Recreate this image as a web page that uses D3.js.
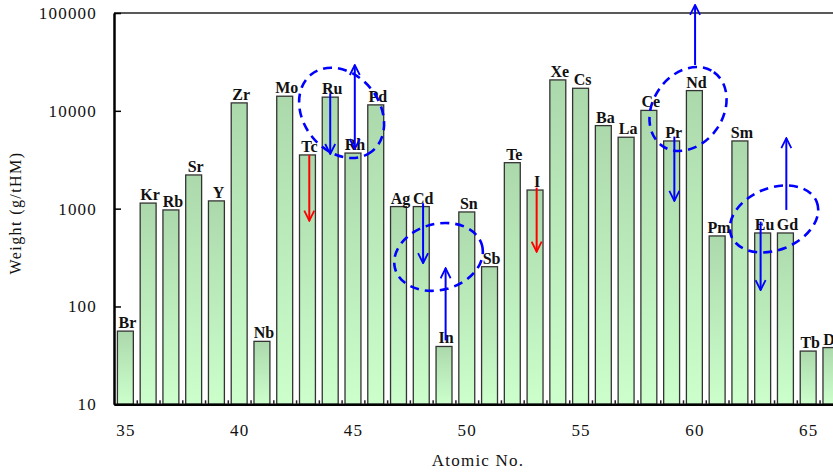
<!DOCTYPE html>
<html>
<head>
<meta charset="utf-8">
<script src="https://cdn.jsdelivr.net/npm/d3@7"></script>
<style>
  body { margin: 0; background: #fff; }
  svg { display: block; }
  text { font-family: "Liberation Serif", "Times New Roman", serif; }
</style>
</head>
<body>
<div id="chart"></div>
<script>
let w = 833;
let h = 473;

// atomic numbers, element symbols and weights
let atomicNo = [35, 36, 37, 38, 39, 40, 41, 42, 43, 44, 45, 46, 47, 48, 49, 50,
                51, 52, 53, 54, 55, 56, 57, 58, 59, 60, 61, 62, 63, 64, 65, 66];
let symbols = ["Br", "Kr", "Rb", "Sr", "Y", "Zr", "Nb", "Mo", "Tc", "Ru", "Rh", "Pd", "Ag", "Cd", "In", "Sn",
               "Sb", "Te", "I", "Xe", "Cs", "Ba", "La", "Ce", "Pr", "Nd", "Pm", "Sm", "Eu", "Gd", "Tb", "Dy"];
let weights = [56, 1140, 970, 2210, 1200, 12050, 44, 14100, 3540, 13800, 3700, 11500, 1050, 1050, 39, 925,
               255, 2950, 1550, 20700, 17000, 7060, 5370, 10100, 4920, 16100, 526, 4920, 564, 564, 35, 38];

let yTicks = [10, 100, 1000, 10000, 100000];
let xTicks = [35, 40, 45, 50, 55, 60, 65];

// arrows: x in atomic number, from / to in g/tHM
let arrowX    = [43.08, 53.07, 44.0, 45.08, 48.08, 49.07, 60.03, 59.12, 62.91, 64.04];
let arrowFrom = [3540, 1640, 15100, 29400, 1135, 45, 29400, 5450, 736, 970];
let arrowTo   = [753, 363, 3620, 4070, 277, 246, 121000, 1200, 147, 5250];
let arrowCol  = ["red", "red", "blue", "blue", "blue", "blue", "blue", "blue", "blue", "blue"];
let arrowBoth = [false, false, false, true, false, false, false, false, false, false];

// dashed rings: centre in atomic number / g/tHM
let ringX = [44.5, 48.76, 59.72, 63.5];
let ringV = [9530, 321, 10440, 785];

let data = atomicNo.map(function(n, i){
  return { n: n, sym: symbols[i], v: weights[i] };
});

let svg = d3.select("#chart").append("svg")
  .attr("width", w)
  .attr("height", h);

let xScale = d3.scaleLinear().domain([34.5, 67]).range([114, 114 + 32.5 * 22.76]);
let yScale = d3.scaleLog().domain([10, 100000]).range([404.3, 13]);

let defs = svg.append("defs");
let grad = defs.append("linearGradient")
  .attr("id", "barGrad")
  .attr("x1", 0).attr("y1", 0).attr("x2", 0).attr("y2", 1);
grad.append("stop").attr("offset", "0%").attr("stop-color", "#acd9ac");
grad.append("stop").attr("offset", "100%").attr("stop-color", "#ccffcc");

let arrowMarker = function(id, color){
  defs.append("marker")
    .attr("id", id)
    .attr("viewBox", "0 0 12 12")
    .attr("refX", 11).attr("refY", 6)
    .attr("markerWidth", 12).attr("markerHeight", 12)
    .attr("markerUnits", "userSpaceOnUse")
    .attr("orient", "auto-start-reverse")
    .append("path")
      .attr("d", "M1,1 L11,6 L1,11")
      .attr("fill", "none")
      .attr("stroke", color)
      .attr("stroke-width", 1.8);
};
arrowMarker("headRed", "red");
arrowMarker("headBlue", "blue");

let barW = 22.76 * 0.7;

// bars
svg.selectAll(".bar").data(data).enter()
  .append("rect")
    .attr("class", "bar")
    .attr("x", d => xScale(d.n) - barW / 2)
    .attr("y", d => yScale(d.v))
    .attr("width", barW)
    .attr("height", d => yScale(10) - yScale(d.v))
    .attr("fill", "url(#barGrad)")
    .attr("stroke", "#333")
    .attr("stroke-width", 1.3);

// element labels
svg.selectAll(".sym").data(data).enter()
  .append("text")
    .attr("class", "sym")
    .attr("x", d => xScale(d.n) + 2)
    .attr("y", d => yScale(d.v) - 3)
    .attr("text-anchor", "middle")
    .attr("font-weight", "bold")
    .attr("font-size", 16)
    .attr("fill", "#111")
    .text(d => d.sym);

// frame
svg.append("line")
  .attr("x1", 114).attr("x2", w + 20)
  .attr("y1", 13).attr("y2", 13)
  .attr("stroke", "#222").attr("stroke-width", 1.6);

// y axis
let yAxis = d3.axisLeft(yScale)
  .tickValues(yTicks)
  .tickFormat(d3.format("d"))
  .tickSizeInner(-7)
  .tickSizeOuter(0)
  .tickPadding(17);
let gy = svg.append("g").attr("transform", "translate(114,0)").call(yAxis);
gy.select(".domain").attr("stroke", "#000").attr("stroke-width", 2.5);
gy.selectAll(".tick line").attr("stroke", "#000").attr("stroke-width", 1.5);
gy.selectAll(".tick text")
  .attr("font-family", "Liberation Serif, serif")
  .attr("font-size", 17)
  .attr("letter-spacing", 1.2)
  .attr("fill", "#111");

// x axis (labels only) + half-step minor ticks
let xAxis = d3.axisBottom(xScale)
  .tickValues(xTicks)
  .tickSize(0)
  .tickPadding(20);
let gx = svg.append("g").attr("transform", "translate(0,404.3)").call(xAxis);
gx.select(".domain").attr("stroke", "#000").attr("stroke-width", 2.5);
gx.selectAll(".tick text")
  .attr("font-family", "Liberation Serif, serif")
  .attr("font-size", 17)
  .attr("letter-spacing", 1.2)
  .attr("fill", "#111");

let halfTicks = d3.range(35.5, 67, 1);
let gMinor = svg.append("g").attr("transform", "translate(0,404.3)")
  .call(d3.axisBottom(xScale).tickValues(halfTicks).tickFormat("").tickSizeInner(-4).tickSizeOuter(0));
gMinor.select(".domain").remove();
gMinor.selectAll(".tick line").attr("stroke", "#222").attr("stroke-width", 1.5);

// axis titles
svg.append("text")
  .attr("transform", "translate(21,213) rotate(-90)")
  .attr("text-anchor", "middle")
  .attr("font-size", 16)
  .attr("letter-spacing", 1.4)
  .attr("fill", "#111")
  .text("Weight (g/tHM)");

svg.append("text")
  .attr("x", 478)
  .attr("y", 466)
  .attr("text-anchor", "middle")
  .attr("font-size", 17)
  .attr("letter-spacing", 1.2)
  .attr("fill", "#111")
  .text("Atomic No.");

// dashed rings
let ringRx  = [49, 45, 45, 46];
let ringRy  = [38, 33, 35, 31];
let ringRot = [52, -15, -55, -22];
svg.selectAll(".ring").data(ringX).enter()
  .append("ellipse")
    .attr("class", "ring")
    .attr("transform", (d, i) => "translate(" + xScale(d) + "," + yScale(ringV[i]) + ") rotate(" + ringRot[i] + ")")
    .attr("rx", (d, i) => ringRx[i])
    .attr("ry", (d, i) => ringRy[i])
    .attr("fill", "none")
    .attr("stroke", "blue")
    .attr("stroke-width", 2.6)
    .attr("stroke-dasharray", "9,6");

// arrows
svg.selectAll(".arrow").data(arrowX).enter()
  .append("line")
    .attr("class", "arrow")
    .attr("x1", d => xScale(d))
    .attr("x2", d => xScale(d))
    .attr("y1", (d, i) => yScale(arrowFrom[i]))
    .attr("y2", (d, i) => yScale(arrowTo[i]))
    .attr("stroke", (d, i) => arrowCol[i])
    .attr("stroke-width", 2)
    .attr("marker-end", (d, i) => arrowCol[i] == "red" ? "url(#headRed)" : "url(#headBlue)")
    .attr("marker-start", (d, i) => arrowBoth[i] ? "url(#headBlue)" : null);
</script>
</body>
</html>
